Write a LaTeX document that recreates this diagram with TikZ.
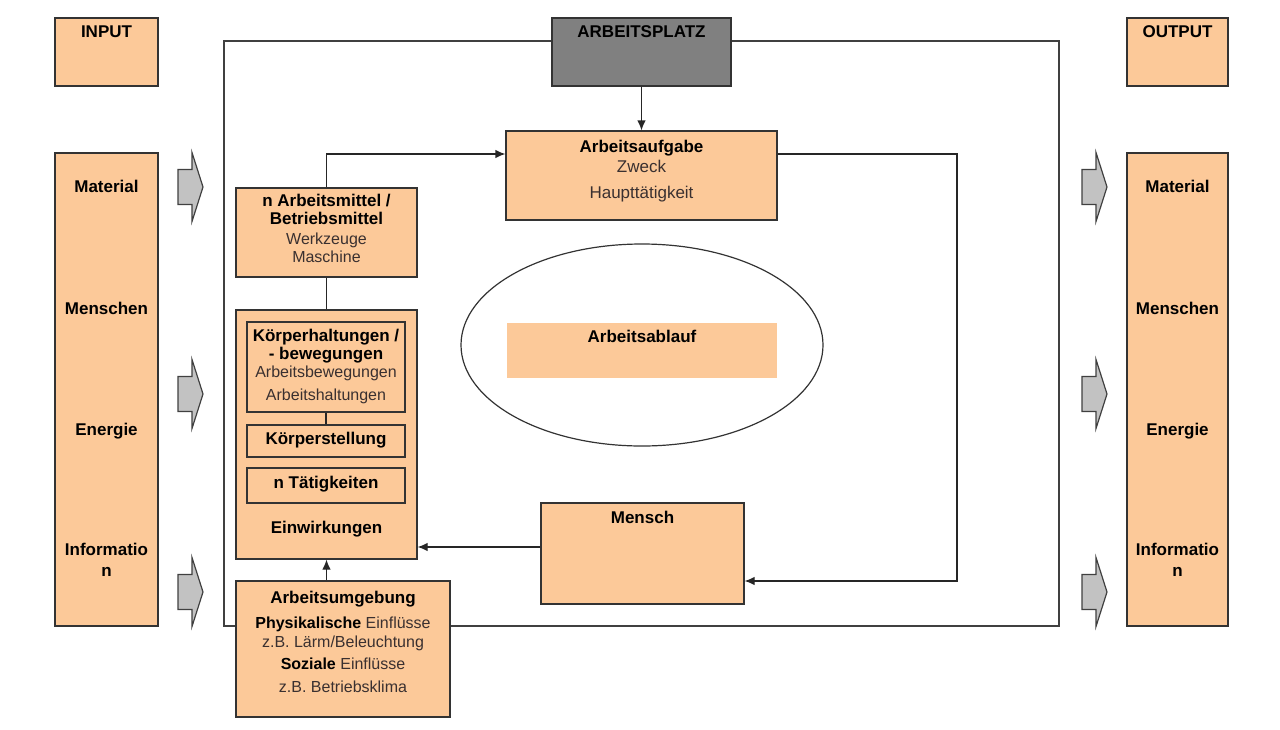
\documentclass[tikz,border=0pt]{standalone}
\usepackage{fontspec}
\setmainfont{Liberation Sans}
\usetikzlibrary{shapes.geometric,arrows.meta,positioning}

\definecolor{boxorange}{RGB}{252,201,153}
\definecolor{platzgray}{RGB}{128,128,128}
\definecolor{pfeilgray}{RGB}{194,194,194}
\definecolor{textgray}{RGB}{58,48,48}

\tikzset{
  box/.style={draw=black!80, fill=boxorange, line width=1.2pt, inner sep=0pt},
  head/.style={font=\fontsize{17}{19}\selectfont\bfseries, anchor=base, inner sep=0pt},
  sub/.style={font=\fontsize{16}{18}\selectfont, text=textgray, anchor=base, inner sep=0pt},
  bigsub/.style={sub, font=\fontsize{17}{19}\selectfont},
  flow/.style={draw=black!85, line width=1.2pt},
  blockpfeil/.style={draw=black!75, fill=pfeilgray, line width=1.2pt, line join=miter},
}

\begin{document}
\begin{tikzpicture}[x=1pt,y=-1pt,>={Latex[length=10pt,width=8.5pt]}]
\useasboundingbox (0,0) rectangle (1280,729);

% Rahmen Arbeitsplatz
\draw[flow, draw=black!75] (224,41) rectangle (1059,626);

% Blockpfeile Input / Output
\foreach \x in {178,1082}
  \foreach \y in {187,394,592}
    \draw[blockpfeil] (\x,\y-17.5) -- (\x+14,\y-17.5) -- (\x+14,\y-34.5) -- (\x+25,\y)
      -- (\x+14,\y+34.5) -- (\x+14,\y+17.5) -- (\x,\y+17.5) -- cycle;

% Kaesten
\node[box, minimum width=103, minimum height=68] (input) at (106.5,52) {};
\node[box, minimum width=103, minimum height=473] (inliste) at (106.5,389.5) {};
\node[box, minimum width=101, minimum height=68] (output) at (1177.5,52) {};
\node[box, minimum width=101, minimum height=473] (outliste) at (1177.5,389.5) {};
\node[box, fill=platzgray, minimum width=179, minimum height=68] (platz) at (641.5,52) {};
\node[box, minimum width=271, minimum height=89] (aufgabe) at (641.5,175.5) {};
\node[box, minimum width=181, minimum height=89] (mittel) at (326.5,232.5) {};
\node[box, minimum width=181, minimum height=249] (koerper) at (326.5,434.5) {};
\node[box, minimum width=158, minimum height=90] (haltung) at (326,367) {};
\node[box, minimum width=158, minimum height=32] (stellung) at (326,441) {};
\node[box, minimum width=158, minimum height=35] (taetig) at (326,485.5) {};
\node[box, minimum width=214, minimum height=136] (umgebung) at (343,649) {};
\node[ellipse, draw=black!80, line width=1.2pt, minimum width=362, minimum height=202] (ablaufoval) at (642,345) {};
\node[box, draw=none, minimum width=270, minimum height=55] (ablauf) at (642,350.5) {};
\node[box, minimum width=203, minimum height=101] (mensch) at (642.5,553.5) {};

% Verbindungen
\coordinate (rueck) at (957,154);
\draw[flow,->] (platz.south) -- (aufgabe.north);
\draw[flow,->] (mittel.north) |- ([yshift=21.5pt]aufgabe.west);
\draw[flow,->] ([yshift=21.5pt]aufgabe.east) -- (rueck) |- ([yshift=-27.5pt]mensch.east);
\draw[flow,->] ([yshift=6.5pt]mensch.west) coordinate (mw) -- (mw -| koerper.east);
\draw[flow,->] (koerper.south |- umgebung.north) -- (koerper.south);
\draw[flow] (mittel.south) -- (koerper.north);
\draw[flow] (haltung.south) -- (stellung.north);

% Texte
\node[head] (t-input) at (106.5,37) {INPUT};
\node[head] (t-output) at (1177.5,37) {OUTPUT};
\node[head] (t-platz) at (641.5,37) {ARBEITSPLATZ};
\foreach \t/\y in {Material/192,Menschen/314,Energie/435,Informatio/555,n/576} {
  \node[head] (in-\y) at (106.5,\y) {\t};
  \node[head] (out-\y) at (1177.5,\y) {\t};
}
\node[head] (t-aufgabe) at (641.5,152) {Arbeitsaufgabe};
\node[bigsub] (t-zweck) at (641.5,172) {Zweck};
\node[bigsub] (t-haupt) at (641.5,198) {Haupttätigkeit};
\node[head] (t-mittel1) at (326.5,206) {n Arbeitsmittel /};
\node[head] (t-mittel2) at (326.5,224) {Betriebsmittel};
\node[sub] (t-werkzeug) at (326.5,244) {Werkzeuge};
\node[sub] (t-maschine) at (326.5,262) {Maschine};
\node[head] (t-haltung1) at (326,341) {Körperhaltungen /};
\node[head] (t-haltung2) at (326,359) {- bewegungen};
\node[sub] (t-bewegung) at (326,377) {Arbeitsbewegungen};
\node[sub] (t-haltung3) at (326,400) {Arbeitshaltungen};
\node[head] (t-stellung) at (326,444) {Körperstellung};
\node[head] (t-taetig) at (326,488) {n Tätigkeiten};
\node[head] (t-einwirk) at (326.5,533) {Einwirkungen};
\node[head] (t-ablauf) at (642,342) {Arbeitsablauf};
\node[head] (t-mensch) at (642.5,523) {Mensch};
\node[head] (t-umgebung) at (343,603) {Arbeitsumgebung};
\node[sub] (t-phys) at (343,628) {\textcolor{black}{\bfseries Physikalische} Einflüsse};
\node[sub] (t-laerm) at (343,647) {z.B. Lärm/Beleuchtung};
\node[sub] (t-sozial) at (343,669) {\textcolor{black}{\bfseries Soziale} Einflüsse};
\node[sub] (t-klima) at (343,692) {z.B. Betriebsklima};
\end{tikzpicture}
\end{document}
